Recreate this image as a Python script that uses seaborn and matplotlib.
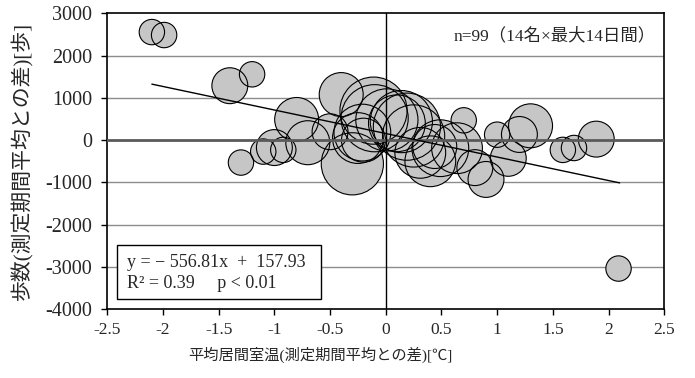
import numpy as np
import pandas as pd
import matplotlib
matplotlib.use("Agg")
import matplotlib.pyplot as plt
import seaborn as sns
from matplotlib.patches import Rectangle

# ---- data ----
temp_diff = [-2.10, -1.99, -1.40, -1.20, -1.30, -1.10, -1.00, -0.92,
             -0.80, -0.70, -0.50, -0.40, -0.30, -0.21, -0.11, -0.10,
             0.01, -0.20, 0.10, 0.19, 0.25, 0.31, 0.40, 0.49,
             0.64, 0.44, 0.70, 0.80, 0.90, 1.00, 1.10, 1.20,
             1.30, 1.59, 1.69, 1.89, 2.09, 0.14, -0.25]
step_diff = [2560, 2490, 1290, 1560, -530, -270, -175, -230,
             490, -60, 200, 1080, -560, 180, 700, 520,
             480, 0, 400, 320, 100, -300, -500, -190,
             -190, -150, 470, -650, -930, 130, -430, 135,
             340, -230, -185, 25, -3040, 440, 50]
bubble_size = [1, 1, 2, 1, 1, 1, 2, 1,
               3, 3, 2, 3, 6, 5, 7, 7,
               6, 3, 5, 7, 6, 4, 4, 5,
               4, 3, 1, 2, 2, 1, 2, 2,
               3, 1, 1, 2, 1, 6, 4]

slope = -556.81
intercept = 157.93
fit_x = [-2.1, 2.1]

x_ticks = [-2.5, -2, -1.5, -1, -0.5, 0, 0.5, 1, 1.5, 2, 2.5]
x_tick_labels = ["-2.5", "-2", "-1.5", "-1", "-0.5", "0", "0.5", "1", "1.5", "2", "2.5"]
y_ticks = [-4000, -3000, -2000, -1000, 0, 1000, 2000, 3000]
y_tick_labels = ["-4000", "-3000", "-2000", "-1000", "0", "1000", "2000", "3000"]

x_label = "平均居間室温(測定期間平均との差)[℃]"
y_label = "歩数(測定期間平均との差)[歩]"
n_text = "n=99（14名×最大14日間）"
eq_text = "y = − 556.81x  +  157.93"
r2_text = "R² = 0.39     p < 0.01"

df = pd.DataFrame({"x": temp_diff, "y": step_diff, "v": bubble_size})

# ---- style ----
sns.set_theme(style="white")
FAM = ["Liberation Serif", "Noto Sans CJK JP", "DejaVu Sans"]
plt.rcParams["font.family"] = FAM

fig = plt.figure(figsize=(6.95, 3.78), dpi=100)
ax = fig.add_axes([0.1544, 0.1823, 0.8013, 0.7820])

base_s = 334.0
sns.scatterplot(data=df, x="x", y="y", size="v", sizes=(base_s, base_s * 7),
                size_norm=(1, 7), color="#c6c6c6", linewidth=0, legend=False,
                ax=ax, zorder=2)
sns.scatterplot(data=df, x="x", y="y", size="v", sizes=(base_s, base_s * 7),
                size_norm=(1, 7), color="#c6c6c6", linewidth=0.8, legend=False,
                ax=ax, zorder=2.5)
edge_coll = ax.collections[-1]
edge_coll.set_facecolor("none")
edge_coll.set_edgecolor("black")

# trend line
fit_y = [slope * xv + intercept for xv in fit_x]
sns.lineplot(x=fit_x, y=fit_y, color="black", linewidth=1.0, ax=ax, zorder=4)

ax.set_xlim(-2.5, 2.5)
ax.set_ylim(-4000, 3000)
ax.set_xticks(x_ticks)
ax.set_xticklabels(x_tick_labels, fontsize=12.5)
ax.set_yticks(y_ticks)
ax.set_yticklabels(y_tick_labels, fontsize=14.5)

# gridlines (under bubbles)
for yv in y_ticks[1:-1]:
    if yv != 0:
        ax.axhline(yv, color="#8c8c8c", linewidth=1.0, zorder=1)
ax.axhline(0, color="#5a5a5a", linewidth=2.0, zorder=3)
ax.axvline(0, color="black", linewidth=1.0, zorder=3)

for sp in ax.spines.values():
    sp.set_visible(True)
    sp.set_color("black")
    sp.set_linewidth(1.2)

ax.tick_params(axis="both", direction="out", length=4, width=1, color="black",
               bottom=True, left=True)
ax.tick_params(axis="y", pad=7)
ax.tick_params(axis="x", pad=5)

ax.set_xlabel(x_label, fontsize=11, va="center")
ax.xaxis.set_label_coords(0.383, -0.155)
ax.set_ylabel(y_label, fontsize=15, va="center")
ax.yaxis.set_label_coords(-0.153, 0.5)

# n text
ax.text(0.985, 0.925, n_text, transform=ax.transAxes, ha="right", va="center",
        fontsize=12.5, zorder=6)

# equation box
ax.add_patch(Rectangle((0.018, 0.035), 0.366, 0.182, transform=ax.transAxes,
                       facecolor="white", edgecolor="black", linewidth=1.0,
                       zorder=5))
ax.text(0.035, 0.159, eq_text, transform=ax.transAxes, ha="left", va="center",
        fontsize=13, zorder=6)
ax.text(0.035, 0.087, r2_text, transform=ax.transAxes, ha="left", va="center",
        fontsize=13, zorder=6)

fig.savefig("out.png", dpi=100)
